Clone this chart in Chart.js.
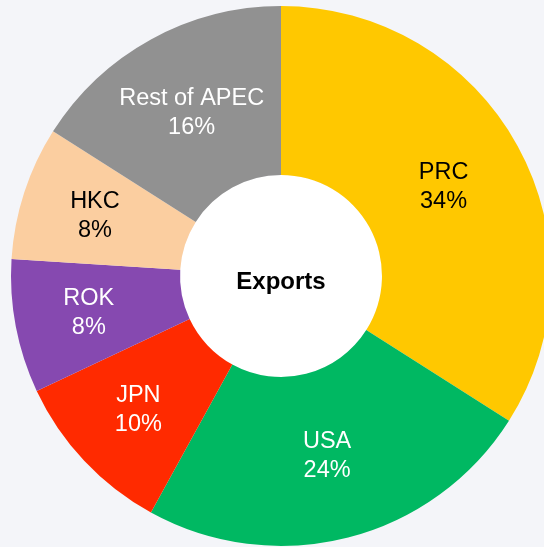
<!DOCTYPE html>
<html lang="en">
<head>
<meta charset="UTF-8">
<title>Exports</title>
<script src="https://cdn.jsdelivr.net/npm/chart.js@4.4.0/dist/chart.umd.min.js"></script>
<style>
  html, body { margin: 0; padding: 0; overflow: hidden; }
  body { width: 544px; height: 547px; background: #f4f5f9; }
  #wrap { position: absolute; left: 0; top: 0; width: 560px; height: 560px; }
</style>
</head>
<body>
<div id="wrap"><canvas id="myChart"></canvas></div>
<script>
const labels = ["PRC", "USA", "JPN", "ROK", "HKC", "Rest of APEC"];
const shares = [34, 24, 10, 8, 8, 16];
const colors = ["#FFC800", "#00B862", "#FF2A00", "#8649B0", "#FBCEA0", "#919191"];
const textColors = ["#000", "#fff", "#fff", "#fff", "#000", "#fff"];
const centerText = "Exports";

// white hole + centre title + slice labels
const centerPlugin = {
  id: "centerPlugin",
  beforeDatasetsDraw(chart) {
    const arc = chart.getDatasetMeta(0).data[0];
    const ctx = chart.ctx;
    ctx.save();
    ctx.fillStyle = "#fff";
    ctx.beginPath();
    ctx.arc(arc.x, arc.y, arc.innerRadius, 0, Math.PI * 2);
    ctx.fill();
    ctx.restore();
  },
  afterDatasetsDraw(chart) {
    const meta = chart.getDatasetMeta(0);
    const ctx = chart.ctx;
    ctx.save();
    ctx.textAlign = "center";
    ctx.textBaseline = "middle";
    ctx.font = "bold 24px 'Liberation Sans', Arial, sans-serif";
    ctx.fillStyle = "#000";
    ctx.fillText(centerText, meta.data[0].x, meta.data[0].y + 6);

    ctx.font = "23.5px 'Liberation Sans', Arial, sans-serif";
    meta.data.forEach(function(el, i) {
      const mid = (el.startAngle + el.endAngle) / 2;
      // thin slices get their label nudged outwards a little
      const k = shares[i] <= 10 ? 0.56 : 0.5;
      const r = el.innerRadius + (el.outerRadius - el.innerRadius) * k;
      const x = el.x + Math.cos(mid) * r;
      const y = el.y + Math.sin(mid) * r;
      ctx.fillStyle = textColors[i];
      ctx.fillText(labels[i], x, y - 14.5);
      ctx.fillText(shares[i] + "%", x, y + 14.5);
    });
    ctx.restore();
  }
};

new Chart("myChart", {
  type: "doughnut",
  data: {
    labels: labels,
    datasets: [{
      data: shares,
      backgroundColor: colors,
      borderWidth: 0
    }]
  },
  options: {
    responsive: true,
    maintainAspectRatio: false,
    animation: false,
    cutout: "37.4%",
    layout: { padding: { left: 11, top: 6, right: 9, bottom: 14 } },
    plugins: {
      legend: { display: false },
      tooltip: { enabled: false }
    }
  },
  plugins: [centerPlugin]
});
</script>
</body>
</html>
